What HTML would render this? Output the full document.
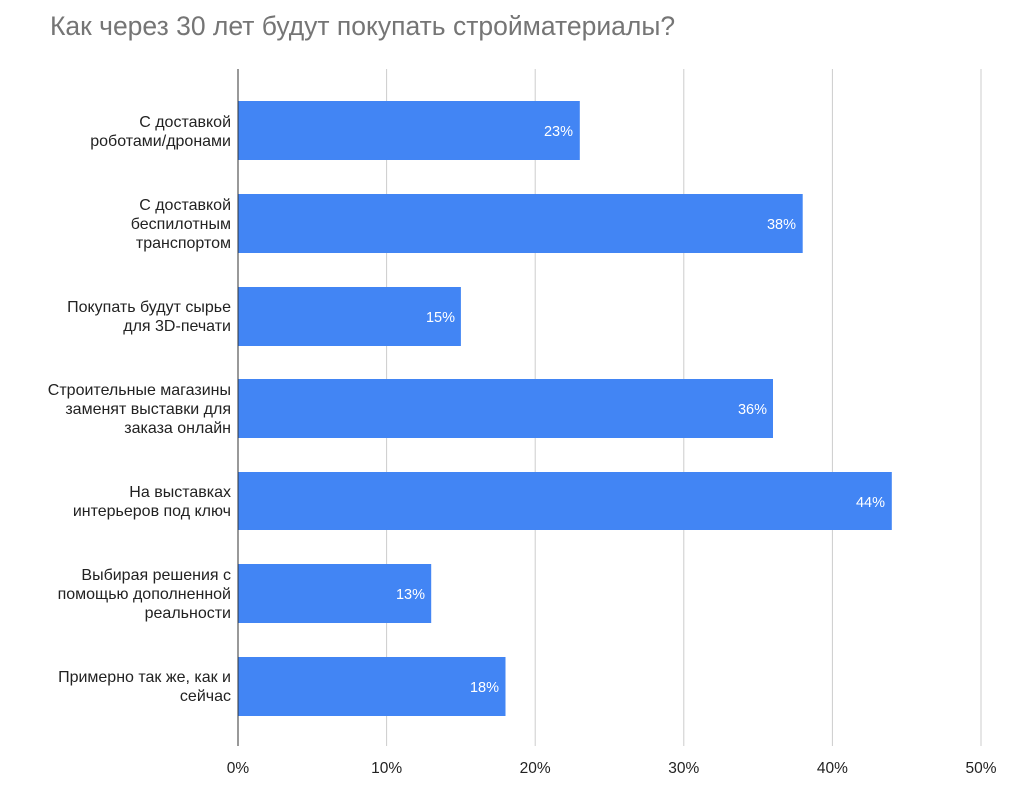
<!DOCTYPE html>
<html><head><meta charset="utf-8"><style>
body{margin:0;background:#fff;}
svg text{font-family:"Liberation Sans","DejaVu Sans",sans-serif;}
</style></head><body>
<svg width="1024" height="786" xmlns="http://www.w3.org/2000/svg">
<rect width="1024" height="786" fill="#fff"/>
<text x="50" y="35" font-size="26.5" fill="#757575">Как через 30 лет будут покупать стройматериалы?</text>
<g stroke="#cccccc" stroke-width="1">
<line x1="386.6" y1="69" x2="386.6" y2="746"/>
<line x1="535.2" y1="69" x2="535.2" y2="746"/>
<line x1="683.8" y1="69" x2="683.8" y2="746"/>
<line x1="832.4" y1="69" x2="832.4" y2="746"/>
<line x1="981" y1="69" x2="981" y2="746"/>
</g>
<g fill="#4285f4">
<rect x="238" y="101" width="341.8" height="59"/>
<rect x="238" y="194" width="564.7" height="59"/>
<rect x="238" y="287" width="222.9" height="59"/>
<rect x="238" y="379" width="535" height="59"/>
<rect x="238" y="472" width="653.8" height="58"/>
<rect x="238" y="564" width="193.2" height="59"/>
<rect x="238" y="657" width="267.5" height="59"/>
</g>
<line x1="238" y1="69" x2="238" y2="746" stroke="#333" stroke-width="1"/>
<g fill="#fff" font-size="14.5" text-anchor="end">
<text x="573" y="136">23%</text>
<text x="796" y="229">38%</text>
<text x="455" y="322">15%</text>
<text x="767" y="414">36%</text>
<text x="885" y="507">44%</text>
<text x="425" y="599">13%</text>
<text x="499" y="692">18%</text>
</g>
<g fill="#222" font-size="16" text-anchor="end">
<text x="231" y="127">С доставкой</text>
<text x="231" y="146">роботами/дронами</text>
<text x="231" y="210">С доставкой</text>
<text x="231" y="229">беспилотным</text>
<text x="231" y="248">транспортом</text>
<text x="231" y="312">Покупать будут сырье</text>
<text x="231" y="331">для 3D-печати</text>
<text x="231" y="395">Строительные магазины</text>
<text x="231" y="414">заменят выставки для</text>
<text x="231" y="433">заказа онлайн</text>
<text x="231" y="497">На выставках</text>
<text x="231" y="516">интерьеров под ключ</text>
<text x="231" y="580">Выбирая решения с</text>
<text x="231" y="599">помощью дополненной</text>
<text x="231" y="618">реальности</text>
<text x="231" y="682">Примерно так же, как и</text>
<text x="231" y="701">сейчас</text>
</g>
<g fill="#222" font-size="15.5" text-anchor="middle">
<text x="238" y="773">0%</text>
<text x="386.6" y="773">10%</text>
<text x="535.2" y="773">20%</text>
<text x="683.8" y="773">30%</text>
<text x="832.4" y="773">40%</text>
<text x="981" y="773">50%</text>
</g>
</svg>
</body></html>
